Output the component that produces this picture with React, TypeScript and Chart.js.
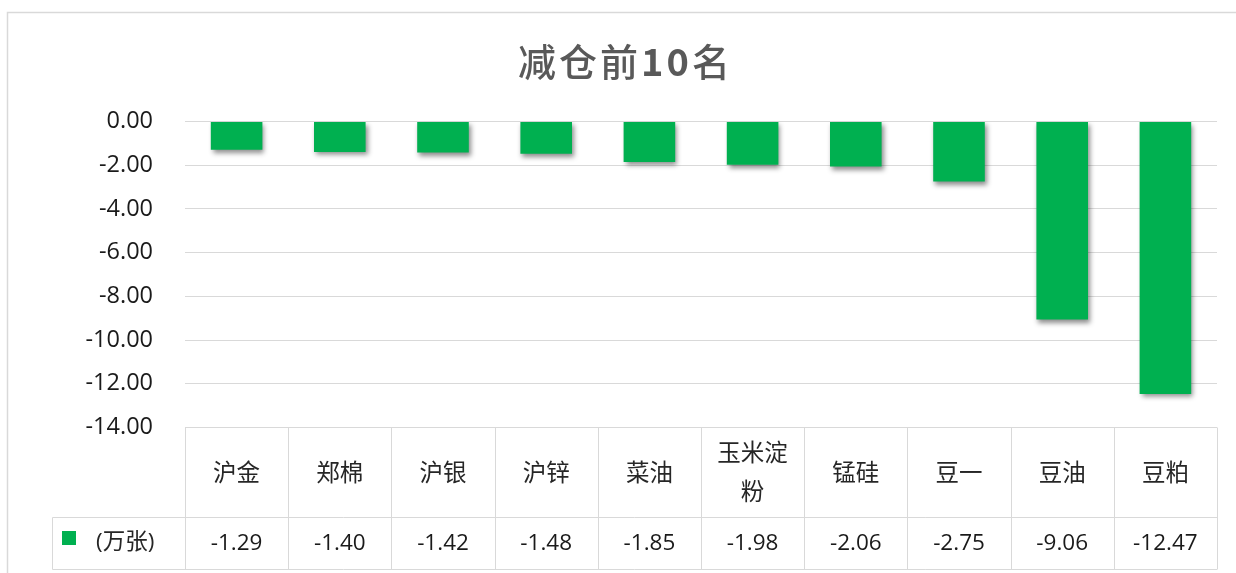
import React, { useEffect, useRef } from "react";
import { Chart, registerables } from "chart.js";

Chart.register(...registerables);

const titleParts = [
  { text: "减仓前", weight: "500" },
  { text: "10", weight: "bold" },
  { text: "名", weight: "500" },
];
const categories: string[][] = [
  ["沪金"], ["郑棉"], ["沪银"], ["沪锌"], ["菜油"], ["玉米淀", "粉"], ["锰硅"], ["豆一"], ["豆油"], ["豆粕"],
];
const values = [-1.29, -1.4, -1.42, -1.48, -1.85, -1.98, -2.06, -2.75, -9.06, -12.47];
const seriesName = "(万张)";
const yMin = -14;
const yMax = 0;
const yStep = 2;

const W = 1236;
const H = 573;
const FONT = '"Open Sans", "Noto Sans CJK SC", sans-serif';
const CJK = '"Noto Sans CJK SC", sans-serif';
const GREEN = "#00B050";
const GRID = "#d9d9d9";

export default function App() {
  const ref = useRef<HTMLCanvasElement | null>(null);
  useEffect(() => {
    if (!ref.current) return;
    const shadowPlugin = {
      id: "shadow",
      beforeDatasetsDraw(chart: any) {
        const ctx = chart.ctx;
        ctx.save();
        ctx.shadowColor = "rgba(0,0,0,0.45)";
        ctx.shadowBlur = 5;
        ctx.shadowOffsetX = 2;
        ctx.shadowOffsetY = 3;
      },
      afterDatasetsDraw(chart: any) {
        chart.ctx.restore();
      },
    };
    const decor = {
      id: "decor",
      afterDraw(chart: any) {
        const ctx = chart.ctx as CanvasRenderingContext2D;
        const area = chart.chartArea;
        const xs = chart.scales.x;
        ctx.save();
        // frame
        ctx.strokeStyle = GRID;
        ctx.lineWidth = 1.5;
        ctx.beginPath();
        ctx.moveTo(7.5, H + 2);
        ctx.lineTo(7.5, 12.5);
        ctx.lineTo(W + 2, 12.5);
        ctx.stroke();
        // title
        ctx.fillStyle = "#595959";
        ctx.textBaseline = "middle";
        const size = 38;
        const spacing = 3;
        const chars: { ch: string; weight: string; w: number }[] = [];
        for (const p of titleParts) {
          ctx.font = `${p.weight} ${size}px ${CJK}`;
          for (const ch of p.text) {
            chars.push({ ch, weight: p.weight, w: ctx.measureText(ch).width });
          }
        }
        const total = chars.reduce((s, c) => s + c.w, 0) + spacing * (chars.length - 1);
        let tx = 624 - total / 2;
        ctx.textAlign = "left";
        chars.forEach((c) => {
          ctx.font = `${c.weight} ${size}px ${CJK}`;
          ctx.fillText(c.ch, tx, 62);
          tx += c.w + spacing;
        });
        // data table
        const top = area.bottom;
        const mid = 517.5;
        const bot = 569.5;
        const legendLeft = 52.5;
        const n = categories.length;
        const colW = (area.right - area.left) / n;
        ctx.strokeStyle = GRID;
        ctx.lineWidth = 1;
        ctx.beginPath();
        for (let i = 0; i <= n; i++) {
          const x = Math.round(area.left + i * colW) + 0.5;
          ctx.moveTo(x, top);
          ctx.lineTo(x, bot);
        }
        ctx.moveTo(legendLeft, mid);
        ctx.lineTo(area.right, mid);
        ctx.moveTo(legendLeft, bot);
        ctx.lineTo(area.right, bot);
        ctx.moveTo(legendLeft, mid);
        ctx.lineTo(legendLeft, bot);
        ctx.stroke();
        // legend cell
        ctx.fillStyle = GREEN;
        ctx.fillRect(62, 531, 14, 14);
        ctx.fillStyle = "#262626";
        ctx.font = `22.5px ${FONT}`;
        ctx.textAlign = "left";
        ctx.fillText(seriesName, 96, 543);
        // categories and values
        ctx.textAlign = "center";
        categories.forEach((lines, i) => {
          const cx = xs.getPixelForValue(i);
          ctx.font = `23.5px ${CJK}`;
          ctx.fillStyle = "#262626";
          if (lines.length === 1) {
            ctx.fillText(lines[0], cx, 472);
          } else {
            ctx.fillText(lines[0], cx, 452);
            ctx.fillText(lines[1], cx, 491);
          }
          ctx.font = `22.5px ${FONT}`;
          ctx.fillStyle = "#1a1a1a";
          ctx.fillText(values[i].toFixed(2), cx, 544);
        });
        ctx.restore();
      },
    };
    const chart = new Chart(ref.current, {
      type: "bar",
      data: {
        labels: categories.map((c) => c.join("")),
        datasets: [
          {
            label: seriesName,
            data: values,
            backgroundColor: GREEN,
            borderWidth: 0,
            barPercentage: 0.5,
            categoryPercentage: 1,
          },
        ],
      },
      options: {
        animation: false,
        responsive: false,
        maintainAspectRatio: false,
        layout: { padding: { left: 0, right: 19, top: 121.5, bottom: 145.5 } },
        plugins: { legend: { display: false }, title: { display: false }, tooltip: { enabled: false } },
        scales: {
          x: { display: false },
          y: {
            min: yMin,
            max: yMax,
            afterFit(scale: any) {
              scale.width = 185;
            },
            ticks: {
              stepSize: yStep,
              padding: 32,
              color: "#1a1a1a",
              font: { size: 23.5, family: FONT },
              callback: (v: any) => Number(v).toFixed(2),
            },
            grid: { color: GRID, lineWidth: 1, drawTicks: false },
            border: { display: false },
          },
        },
      },
      plugins: [shadowPlugin, decor],
    });
    return () => chart.destroy();
  }, []);
  return (
    <div style={{ position: "absolute", left: 0, top: 0, width: W, height: H, background: "#fff" }}>
      <canvas ref={ref} width={W} height={H} style={{ width: W, height: H, display: "block" }} />
    </div>
  );
}
